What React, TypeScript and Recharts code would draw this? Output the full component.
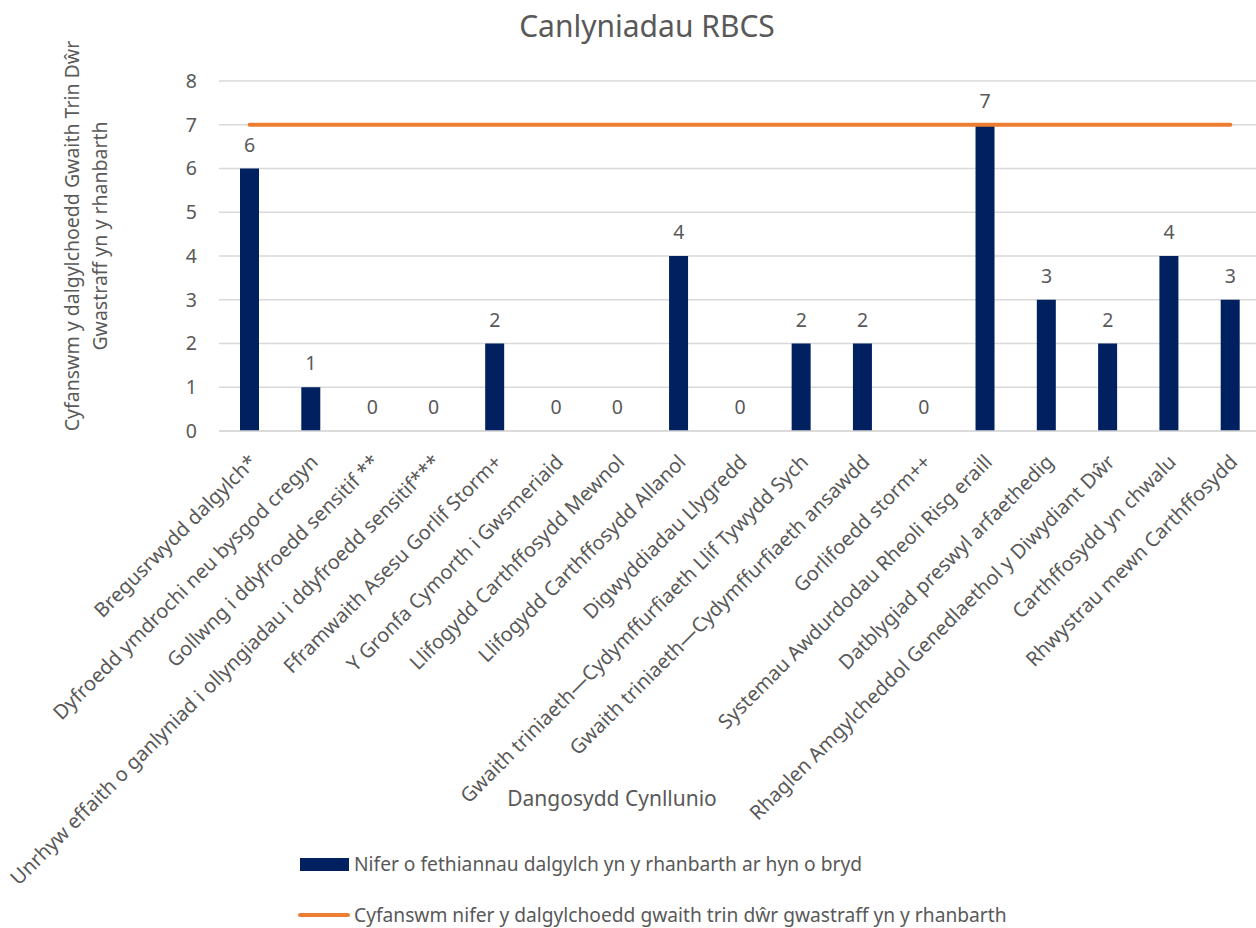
import React from "react";
import { ComposedChart, Bar, Line, XAxis, YAxis, CartesianGrid, LabelList } from "recharts";

const categories = [
  "Bregusrwydd dalgylch*",
  "Dyfroedd ymdrochi neu bysgod cregyn",
  "Gollwng i ddyfroedd sensitif **",
  "Unrhyw effaith o ganlyniad i ollyngiadau i ddyfroedd sensitif***",
  "Fframwaith Asesu Gorlif Storm+",
  "Y Gronfa Cymorth i Gwsmeriaid",
  "Llifogydd Carthffosydd Mewnol",
  "Llifogydd Carthffosydd Allanol",
  "Digwyddiadau Llygredd",
  "Gwaith triniaeth\u2014Cydymffurfiaeth Llif Tywydd Sych",
  "Gwaith triniaeth\u2014Cydymffurfiaeth ansawdd",
  "Gorlifoedd storm++",
  "Systemau Awdurdodau Rheoli Risg eraill",
  "Datblygiad preswyl arfaethedig",
  "Rhaglen Amgylcheddol Genedlaethol y Diwydiant D\u0175r",
  "Carthffosydd yn chwalu",
  "Rhwystrau mewn Carthffosydd",
];

const failures = [6, 1, 0, 0, 2, 0, 0, 4, 0, 2, 2, 0, 7, 3, 2, 4, 3];
const totals = [7, 7, 7, 7, 7, 7, 7, 7, 7, 7, 7, 7, 7, 7, 7, 7, 7];
const yTicks = [0, 1, 2, 3, 4, 5, 6, 7, 8];

const titleText = "Canlyniadau RBCS";
const xTitle = "Dangosydd Cynllunio";
const yTitleLines = ["Cyfanswm y dalgylchoedd Gwaith Trin D\u0175r", "Gwastraff yn y rhanbarth"];
const barLegend = "Nifer o fethiannau dalgylch yn y rhanbarth ar hyn o bryd";
const lineLegend = "Cyfanswm nifer y dalgylchoedd gwaith trin d\u0175r gwastraff yn y rhanbarth";

const data = categories.map((name, i) => ({ name, failures: failures[i], total: totals[i] }));

const FONT = "'Noto Sans', 'Open Sans', sans-serif";
const TEXT = "#595959";
const NAVY = "#002060";
const ORANGE = "#ED7D31";
const GRID = "#d9d9d9";

const XTick = (props: any) => {
  const { x, y, payload } = props;
  const ty = y + 19;
  const tx = x + 3;
  return (
    <text
      x={tx}
      y={ty}
      textAnchor="end"
      dominantBaseline="central"
      fill={TEXT}
      fontSize={20}
      fontFamily={FONT}
      transform={`rotate(-45, ${tx}, ${ty})`}
    >
      {payload.value}
    </text>
  );
};

const YTitle = (props: any) => {
  const vb = props.viewBox || { x: 0, y: 0, width: 0, height: 0 };
  const cy = vb.y + vb.height / 2 - 20;
  const x1 = vb.x + 79;
  const x2 = vb.x + 107;
  return (
    <g>
      <text x={x1} y={cy} textAnchor="middle" fill={TEXT} fontSize={19.5} fontFamily={FONT} transform={`rotate(-90, ${x1}, ${cy})`}>
        {yTitleLines[0]}
      </text>
      <text x={x2} y={cy} textAnchor="middle" fill={TEXT} fontSize={19.5} fontFamily={FONT} transform={`rotate(-90, ${x2}, ${cy})`}>
        {yTitleLines[1]}
      </text>
    </g>
  );
};

const XTitle = (props: any) => {
  const vb = props.viewBox || { x: 0, y: 0, width: 0, height: 0 };
  const x = vb.x + 393;
  const y = vb.y + 375;
  return (
    <text x={x} y={y} textAnchor="middle" fill={TEXT} fontSize={21} fontFamily={FONT}>
      {xTitle}
    </text>
  );
};

export default function App() {
  return (
    <div style={{ position: "absolute", left: 0, top: 0, width: 1256, height: 928, overflow: "hidden", background: "#fff", fontFamily: FONT }}>
      <div style={{ position: "absolute", left: 0, top: 6, width: 1294, textAlign: "center", fontSize: 30, color: TEXT, fontFamily: FONT, lineHeight: "40px" }}>
        {titleText}
      </div>
      <ComposedChart
        width={1261}
        height={928}
        data={data}
        margin={{ top: 81, right: 0, left: 0, bottom: 0 }}
        barCategoryGap={0}
      >
        <CartesianGrid vertical={false} stroke={GRID} strokeWidth={1.5} />
        <XAxis
          dataKey="name"
          interval={0}
          tick={<XTick />}
          tickLine={false}
          axisLine={{ stroke: GRID, strokeWidth: 1.5 }}
          height={497}
          label={<XTitle />}
        />
        <YAxis
          domain={[0, 8]}
          ticks={yTicks}
          width={219}
          tickLine={false}
          axisLine={false}
          tickSize={0}
          tickMargin={22}
          tick={{ fill: TEXT, fontSize: 19.5, fontFamily: FONT }}
          label={<YTitle />}
        />
        <Bar dataKey="failures" fill={NAVY} barSize={19} isAnimationActive={false} />
        <Line
          dataKey="total"
          stroke={ORANGE}
          strokeWidth={4}
          strokeLinecap="round"
          dot={false}
          activeDot={false}
          isAnimationActive={false}
        />
        <Line
          dataKey="failures"
          stroke="none"
          dot={false}
          activeDot={false}
          legendType="none"
          isAnimationActive={false}
        >
          <LabelList dataKey="failures" position="top" offset={17} fill={TEXT} fontSize={19.5} fontFamily={FONT} />
        </Line>
      </ComposedChart>
      <div style={{ position: "absolute", left: 300, top: 849, display: "flex", alignItems: "center", fontSize: 19.2, color: TEXT, fontFamily: FONT, lineHeight: "30px" }}>
        <div style={{ width: 49, height: 13, background: NAVY, marginRight: 5 }} />
        <span>{barLegend}</span>
      </div>
      <div style={{ position: "absolute", left: 298, top: 900, display: "flex", alignItems: "center", fontSize: 19.2, color: TEXT, fontFamily: FONT, lineHeight: "30px" }}>
        <div style={{ width: 52, height: 4, background: ORANGE, borderRadius: 2, marginRight: 4 }} />
        <span>{lineLegend}</span>
      </div>
    </div>
  );
}
